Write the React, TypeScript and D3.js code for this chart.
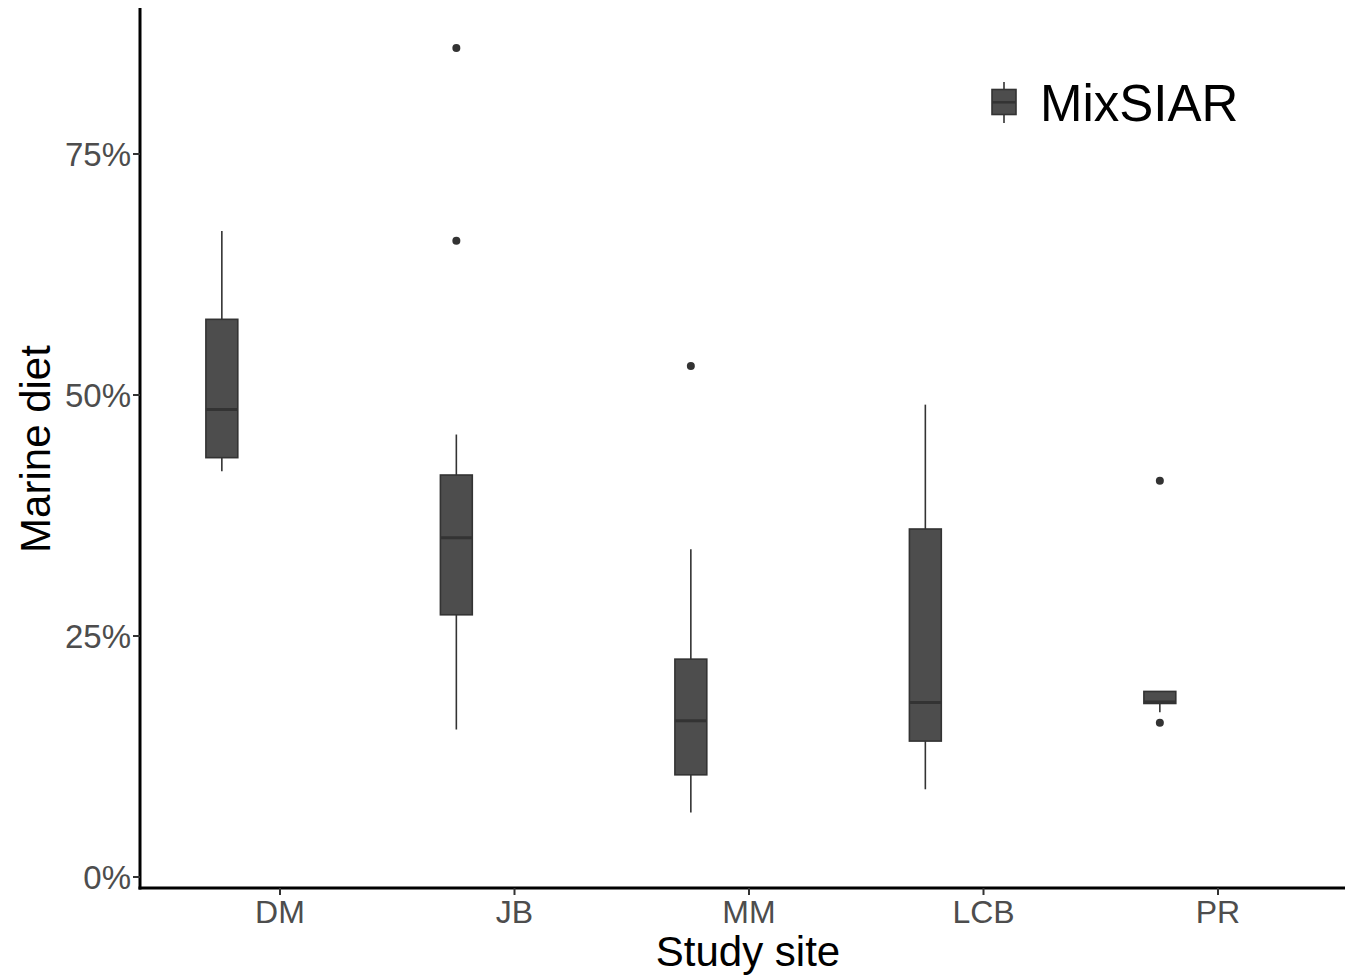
import React from "react";
import * as d3 from "d3";

const sites = ["DM", "JB", "MM", "LCB", "PR"];
const whiskerLow = [42.1, 15.3, 6.7, 9.1, 17.1];
const q1 = [43.5, 27.2, 10.6, 14.1, 18.0];
const median = [48.5, 35.2, 16.2, 18.1, 18.15];
const q3 = [57.85, 41.7, 22.6, 36.1, 19.25];
const whiskerHigh = [67.0, 45.9, 34.0, 49.0, 19.25];
const outliers: number[][] = [[], [86.0, 66.0], [53.0], [], [41.1, 16.0]];
const yTicks = [0, 25, 50, 75];
const legendLabel = "MixSIAR";

const W = 1345;
const H = 978;
const FONT = "'Liberation Sans', Arial, Helvetica, sans-serif";
const FILL = "#4d4d4d";
const LINE = "#333333";

export default function App() {
  const x = d3.scalePoint<string>().domain(sites).range([280, 1218]);
  const step = x.step();
  const y = d3.scaleLinear().domain([0, 75]).range([877, 154]);
  const panelLeft = 140;
  const panelBottom = y(-1.14);
  const panelTop = 8;
  const dodge = -0.248 * step;
  const boxW = 0.136 * step;

  return (
    <svg
      width={W}
      height={H}
      style={{ position: "absolute", left: 0, top: 0, background: "#fff" }}
      fontFamily={FONT}
    >
      {/* boxes */}
      {sites.map((s, i) => {
        const cx = (x(s) as number) + dodge;
        return (
          <g key={s}>
            <line x1={cx} x2={cx} y1={y(whiskerHigh[i])} y2={y(q3[i])} stroke={LINE} strokeWidth={1.6} />
            <line x1={cx} x2={cx} y1={y(q1[i])} y2={y(whiskerLow[i])} stroke={LINE} strokeWidth={1.6} />
            <rect
              x={cx - boxW / 2}
              y={y(q3[i])}
              width={boxW}
              height={y(q1[i]) - y(q3[i])}
              fill={FILL}
              stroke={LINE}
              strokeWidth={1.6}
            />
            <line x1={cx - boxW / 2} x2={cx + boxW / 2} y1={y(median[i])} y2={y(median[i])} stroke={LINE} strokeWidth={3} />
            {outliers[i].map((o, j) => (
              <circle key={j} cx={cx} cy={y(o)} r={4} fill={LINE} />
            ))}
          </g>
        );
      })}

      {/* y axis */}
      <line x1={panelLeft} x2={panelLeft} y1={panelTop} y2={panelBottom + 1.5} stroke="#000" strokeWidth={3} />
      {yTicks.map((t) => (
        <g key={t}>
          <line x1={panelLeft - 7} x2={panelLeft} y1={y(t)} y2={y(t)} stroke="#333" strokeWidth={2} />
          <text x={panelLeft - 9} y={y(t)} dy="0.36em" textAnchor="end" fontSize={33} fill="#4d4d4d">
            {t + "%"}
          </text>
        </g>
      ))}

      {/* x axis */}
      <line x1={panelLeft - 1.5} x2={W} y1={panelBottom} y2={panelBottom} stroke="#000" strokeWidth={3} />
      {sites.map((s) => (
        <g key={s}>
          <line x1={x(s)} x2={x(s)} y1={panelBottom} y2={panelBottom + 7} stroke="#333" strokeWidth={2} />
          <text x={x(s)} y={panelBottom + 35} textAnchor="middle" fontSize={32} fill="#4d4d4d">
            {s}
          </text>
        </g>
      ))}

      {/* axis titles */}
      <text x={748} y={966} textAnchor="middle" fontSize={42} fill="#000">
        Study site
      </text>
      <text
        transform={`translate(50, ${449}) rotate(-90)`}
        textAnchor="middle"
        fontSize={42}
        fill="#000"
      >
        Marine diet
      </text>

      {/* legend */}
      <g>
        <line x1={1004} x2={1004} y1={82} y2={123} stroke={LINE} strokeWidth={1.6} />
        <rect x={992} y={89.5} width={24} height={25} fill={FILL} stroke={LINE} strokeWidth={1.6} />
        <line x1={992} x2={1016} y1={102.3} y2={102.3} stroke={LINE} strokeWidth={2.5} />
        <text x={1040} y={121} fontSize={51} fill="#000">
          {legendLabel}
        </text>
      </g>
    </svg>
  );
}
